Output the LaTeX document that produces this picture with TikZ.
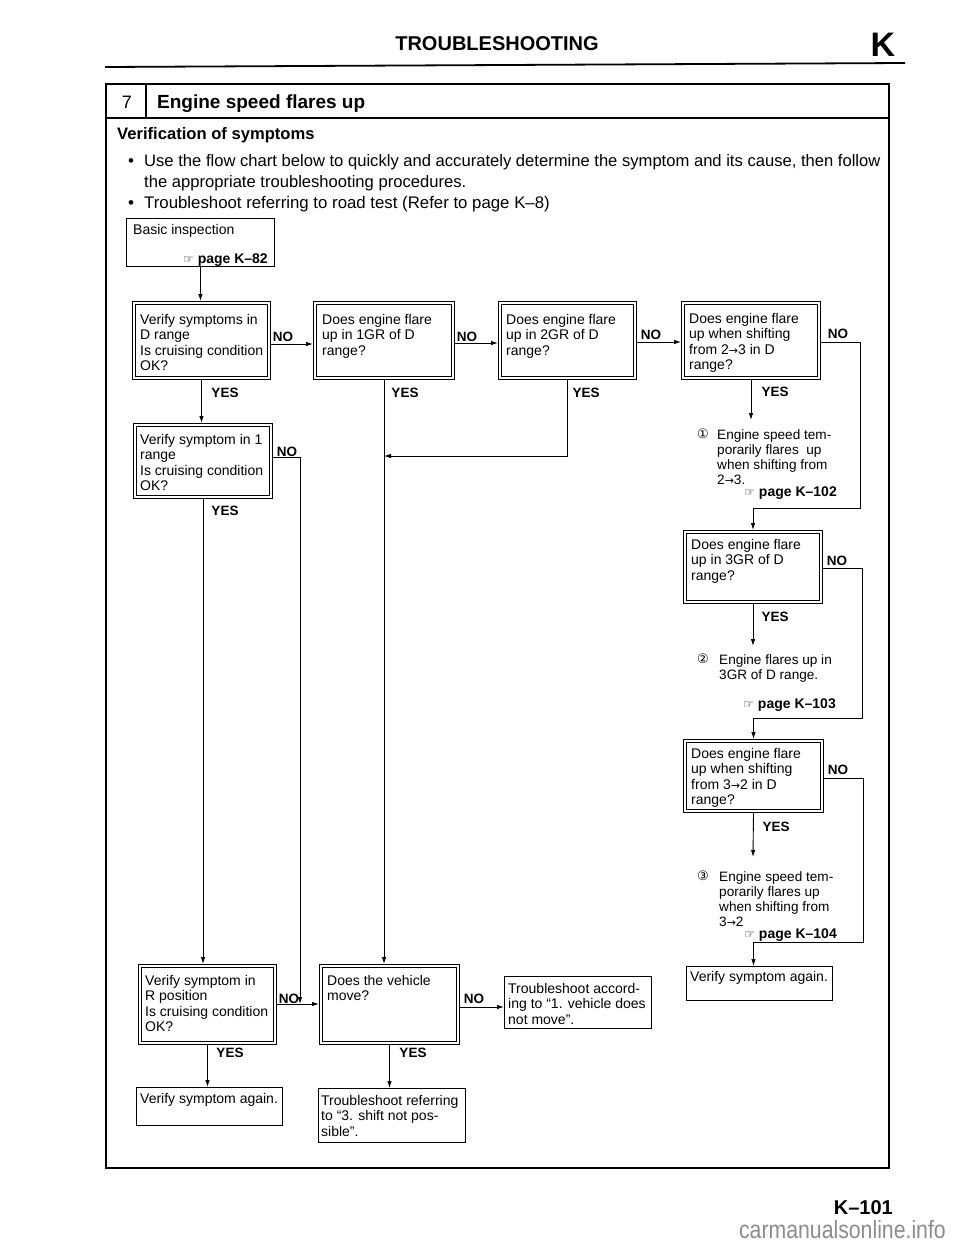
\documentclass[tikz,border=0pt]{standalone}
\usepackage{fontspec}
\setmainfont{Liberation Sans}
\newfontfamily\symf{DejaVu Sans}
\newfontfamily\wmf[FakeStretch=0.85]{Liberation Sans}
\usetikzlibrary{arrows.meta}
\newcommand{\rarr}{{\symf\fontsize{11}{11}\selectfont →}}
\newcommand{\hand}{{\symf\mdseries\fontsize{12}{12}\selectfont ☞}}
\begin{document}
\begin{tikzpicture}[x=1pt,y=-1pt,
  sbox/.style={draw, line width=0.9pt, inner sep=0, anchor=north west},
  dbox/.style={draw, double, double distance=2.4pt, line width=0.8pt, inner sep=0, outer sep=2pt, anchor=north west},
  bt/.style={font=\fontsize{14}{15.5}\selectfont, align=left, inner sep=0, anchor=north west},
  an/.style={font=\fontsize{13.6}{15}\selectfont, align=left, inner sep=0, anchor=north west},
  lb/.style={font=\bfseries\fontsize{13.5}{14}\selectfont, inner sep=0},
  ln/.style={line width=0.9pt},
  ar/.style={line width=0.9pt, -{Latex[length=7pt,width=4.5pt]}},
  pg/.style={font=\bfseries\fontsize{14}{15}\selectfont, inner sep=0, anchor=base east},
  cn/.style={font=\symf\fontsize{13}{13}\selectfont, inner sep=0},
]
\useasboundingbox[fill=white] (0,0) rectangle (960,1242);

% ---- page header ----
\node[font=\bfseries\fontsize{20}{20}\selectfont, inner sep=0, anchor=base] (title) at (497,50) {TROUBLESHOOTING};
\node[font=\bfseries\fontsize{34}{34}\selectfont, inner sep=0, anchor=base] (kk) at (883,56) {K};
\draw[line width=1.8pt] (105,67) -- (905,63);

% ---- frame ----
\draw[line width=1.3pt] (106,84) rectangle (889,1168);
\draw[line width=1.1pt] (106,118) -- (889,118);
\draw[line width=1.1pt] (146,84) -- (146,118);
\node[font=\fontsize{18}{18}\selectfont, inner sep=0, anchor=base] (num) at (127,108) {7};
\node[font=\bfseries\fontsize{19}{19}\selectfont, inner sep=0, anchor=base west] (head) at (157,108) {Engine speed flares up};
\node[font=\bfseries\fontsize{16.6}{17}\selectfont, inner sep=0, anchor=base west] (verif) at (117,139) {Verification of symptoms};
\node[font=\fontsize{17}{17}\selectfont, inner sep=0, anchor=base west] (b1) at (128,166) {\textbullet};
\node[font=\fontsize{16.6}{21}\selectfont, inner sep=0, anchor=base west] (bt1) at (144,166) {Use the flow chart below to quickly and accurately determine the symptom and its cause, then follow};
\node[font=\fontsize{16.6}{21}\selectfont, inner sep=0, anchor=base west] (bt1b) at (144,187) {the appropriate troubleshooting procedures.};
\node[font=\fontsize{17}{17}\selectfont, inner sep=0, anchor=base west] (b2) at (128,208) {\textbullet};
\node[font=\fontsize{16.8}{17}\selectfont, inner sep=0, anchor=base west] (bt2) at (144,208) {Troubleshoot referring to road test (Refer to page K–8)};

% ---- boxes ----
\node[sbox, minimum width=148, minimum height=48] (basic) at (126,218) {};
\node[bt] (basicT) at (133,224) {Basic inspection};
\node[pg] (basicP) at (268,263) {\hand\ page K–82};

\node[dbox, minimum width=135, minimum height=75] (q1) at (132,301) {};
\node[bt] (q1T) at (140,314) {Verify symptoms in\\D range\\Is cruising condition\\OK?};
\node[dbox, minimum width=138, minimum height=75] (q2) at (313,301) {};
\node[bt] (q2T) at (322,314) {Does engine flare\\up in 1GR of D\\range?};
\node[dbox, minimum width=135, minimum height=75] (q3) at (498,301) {};
\node[bt] (q3T) at (506,314) {Does engine flare\\up in 2GR of D\\range?};
\node[dbox, minimum width=136, minimum height=75] (q4) at (681,301) {};
\node[bt] (q4T) at (689,313) {Does engine flare\\up when shifting\\from 2\rarr3 in D\\range?};

\node[dbox, minimum width=136, minimum height=72] (q1r) at (133,423) {};
\node[bt] (q1rT) at (140,434) {Verify symptom in 1\\range\\Is cruising condition\\OK?};

\node[dbox, minimum width=136, minimum height=70] (q5) at (683,530) {};
\node[bt] (q5T) at (691,539) {Does engine flare\\up in 3GR of D\\range?};

\node[dbox, minimum width=137, minimum height=70] (q6) at (683,739) {};
\node[bt] (q6T) at (691,748) {Does engine flare\\up when shifting\\from 3\rarr2 in D\\range?};

\node[sbox, minimum width=146, minimum height=34] (vr) at (686,966) {};
\node[bt] (vrT) at (690,971) {Verify symptom again.};

\node[dbox, minimum width=135, minimum height=77] (qR) at (138,964) {};
\node[bt] (qRT) at (145,975) {Verify symptom in\\R position\\Is cruising condition\\OK?};
\node[dbox, minimum width=137, minimum height=77] (qV) at (319,964) {};
\node[bt] (qVT) at (327,975) {Does the vehicle\\move?};
\node[sbox, minimum width=147, minimum height=52] (t1) at (504,976) {};
\node[bt] (t1T) at (508,983) {Troubleshoot accord-\\ing to “1. vehicle does\\not move”.};
\node[sbox, minimum width=146, minimum height=38] (va) at (136,1087) {};
\node[bt] (vaT) at (140,1093) {Verify symptom again.};
\node[sbox, minimum width=147, minimum height=54] (t2) at (318,1088) {};
\node[bt] (t2T) at (321,1095) {Troubleshoot referring\\to “3. shift not pos-\\sible”.};

% ---- annotations ----
\node[cn] (c1n) at (703,434) {①};
\node[an] (a1) at (717,429) {Engine speed tem-\\porarily flares\ \ up\\when shifting from\\2\rarr3.};
\node[pg] (p102) at (837,496) {\hand\ page K–102};
\node[cn] (c2n) at (703,659) {②};
\node[an] (a2) at (719,654) {Engine flares up in\\3GR of D range.};
\node[pg] (p103) at (836,708) {\hand\ page K–103};
\node[cn] (c3n) at (703,876) {③};
\node[an] (a3) at (719,871) {Engine speed tem-\\porarily flares up\\when shifting from\\3\rarr2};
\node[pg] (p104) at (837,938) {\hand\ page K–104};

% ---- connectors ----
\coordinate (e4) at (860,508);
\coordinate (e5) at (862,718);
\coordinate (e6) at (863,942);
\coordinate (y4) at (751,420);
\coordinate (y5) at (753,646);
\coordinate (y6) at (753,857);
\coordinate (j1) at (300,1004);

\draw[ar] (basic.south) -- (basic.south |- q1.north);
\draw[ar] (q1.east |- 0,344) -- (q2.west |- 0,344);
\draw[ar] (q2.east |- 0,343) -- (q3.west |- 0,343);
\draw[ar] (q3.east |- 0,342) -- (q4.west |- 0,342);
\draw[ar] (q4.east |- 0,342) -| (e4) -| (q5.north);
\draw[ar] (q4.south) -- (y4);
\draw[ar] (q1.south) -- (q1.south |- q1r.north);
\draw[ar] (q2.south) -- (q2.south |- qV.north);
\draw[ar] (q3.south) |- (q2.south |- 0,456);
\draw[ar] (q1r.east |- 0,457) -| (j1);
\draw[ar] (q1r.south) -- (q1r.south |- qR.north);
\draw[ar] (q5.east |- 0,568) -| (e5) -| (q6.north);
\draw[ar] (q5.south) -- (y5);
\draw[ln] (q6.east |- 0,778) -| (e6) -- (q6.south |- e6);
\draw[ar] (q6.south |- e6) -- (q6.south |- vr.north);
\draw[ar] (q6.south) -- (y6);
\draw[ar] (qR.east |- 0,1004) -- (qV.west |- 0,1004);
\draw[ar] (qR.south) -- (qR.south |- va.north);
\draw[ar] (qV.south) -- (qV.south |- t2.north);
\draw[ar] (qV.east |- 0,1007) -- (t1.west |- 0,1007);

% ---- labels ----
\node[lb] (n1) at (283,337) {NO};
\node[lb] (n2) at (467,337) {NO};
\node[lb] (n3) at (651,335) {NO};
\node[lb] (n4) at (838,334) {NO};
\node[lb] (n5) at (287,452) {NO};
\node[lb] (n6) at (837,561) {NO};
\node[lb] (n7) at (838,770) {NO};
\node[lb] (n8) at (289,999) {NO};
\node[lb] (n9) at (474,999) {NO};
\node[lb] (y1l) at (225,393) {YES};
\node[lb] (y2l) at (405,393) {YES};
\node[lb] (y3l) at (586,393) {YES};
\node[lb] (y4l) at (775,392) {YES};
\node[lb] (y5l) at (225,511) {YES};
\node[lb] (y6l) at (775,617) {YES};
\node[lb] (y7l) at (776,827) {YES};
\node[lb] (y8l) at (230,1053) {YES};
\node[lb] (y9l) at (413,1053) {YES};

% ---- footer ----
\node[font=\bfseries\fontsize{20}{20}\selectfont, inner sep=0, anchor=base east] (pgno) at (893,1214) {K–101};
\node[font=\wmf\fontsize{25}{25}\selectfont, text=black!45, inner sep=0, anchor=base east] (wm) at (946,1238) {carmanualsonline.info};
\end{tikzpicture}
\end{document}
